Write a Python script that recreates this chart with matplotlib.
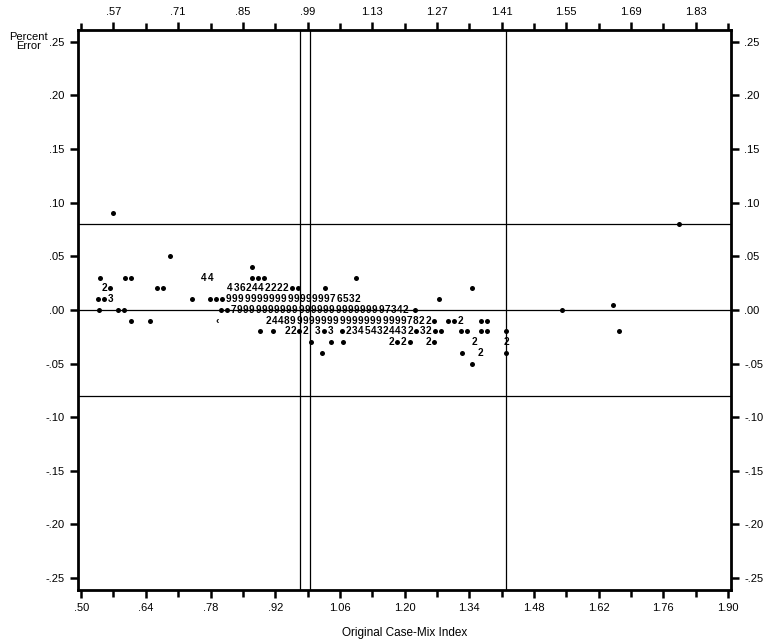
import numpy as np
import matplotlib
matplotlib.use("Agg")
from matplotlib import pyplot as plt

plt.rcParams['font.family'] = ['Liberation Sans', 'DejaVu Sans']

# printer-plot cells: 'o' = one case, digit = number of cases, ' ' = empty cell
seg_y = [0.09, 0.08, 0.05, 0.04,
         0.03, 0.03, 0.03, 0.03, 0.03,
         0.02, 0.02, 0.02, 0.02, 0.02,
         0.01, 0.01, 0.01, 0.01,
         0.00, 0.00, 0.00, 0.00, 0.00, 0.005,
         -0.01, -0.01, -0.01, -0.01, -0.01, -0.01,
         -0.02, -0.02, -0.02, -0.02, -0.02, -0.02, -0.02,
         -0.03, -0.03, -0.03, -0.03, -0.03, -0.03, -0.03,
         -0.04, -0.04, -0.04, -0.04,
         -0.05]
seg_x = [0.569, 1.794, 0.693, 0.870,
         0.541, 0.595, 0.766, 0.870, 1.095,
         0.550, 0.664, 0.8225, 1.028, 1.346,
         0.537, 0.740, 0.779, 1.275,
         0.539, 0.580, 0.803, 1.223, 1.541, 1.652,
         0.608, 0.649, 0.794, 0.905, 1.294, 1.366,
         0.887, 0.916, 0.946, 1.322, 1.366, 1.420, 1.665,
         0.998, 1.041, 1.067, 1.171, 1.251, 1.351, 1.420,
         1.022, 1.325, 1.364, 1.420,
         1.346]
seg_sym = ["o", "o", "o", "o",
           "o", "oo", "44", "ooo", "o",
           "2o", "oo", "4362442222oo", "o", "o",
           "oo3", "o", "ooo" + "9" * 17 + "76532", "o",
           "o", "oo", "oo7" + "9" * 24 + "7342", "o", "o", "o",
           "o", "o", "\u2039", "2448" + "9" * 19 + "7822o", "oo2", "oo",
           "o", "o", "22o2 3o3 o23454324432o32oo", "oo", "oo", "o", "o",
           "o", "o", "o", "2o2o", "2o", "2", "2",
           "o", "o", "2", "o",
           "o"]
cell = 0.0133

ref_h = [0.08, 0.0, -0.08]
ref_v = [0.973, 0.995, 1.42]

x_major = np.round(np.arange(0.50, 1.901, 0.14), 2)
x_minor = np.round(np.arange(0.57, 1.90, 0.14), 2)
y_ticks = np.round(np.arange(-0.25, 0.251, 0.05), 2)


def fmt(v):
    s = "%.2f" % v
    if s == "-0.00":
        s = "0.00"
    if s.startswith("0"):
        s = s[1:]
    elif s.startswith("-0"):
        s = "-" + s[2:]
    return s


fig = plt.figure(figsize=(7.64, 6.39), dpi=100)
ax = fig.add_axes([0.102, 0.077, 0.855, 0.876])
ax.set_xlim(0.493, 1.907)
ax.set_ylim(-0.261, 0.261)

for v in ref_h:
    ax.axhline(v, color="black", lw=0.9)
for v in ref_v:
    ax.axvline(v, color="black", lw=0.9)

dots_x, dots_y = [], []
for y, x0, s in zip(seg_y, seg_x, seg_sym):
    for i, c in enumerate(s):
        x = x0 + i * cell
        if c == "o":
            dots_x.append(x)
            dots_y.append(y)
        elif c != " ":
            ax.text(x, y, c, ha="center", va="center", fontsize=7.2,
                    fontweight="bold")
ax.plot(dots_x, dots_y, "o", color="black", ms=3.6, mew=0)

for sp in ax.spines.values():
    sp.set_linewidth(2.0)

ax.set_xticks(x_major)
ax.set_xticklabels([fmt(v) for v in x_major])
ax.set_xticks(x_minor, minor=True)
ax.set_yticks(y_ticks)
ax.set_yticklabels([fmt(v) for v in y_ticks])
ax.tick_params(which="both", direction="out", width=1.8, labelsize=8)
ax.tick_params(which="major", length=6)
ax.tick_params(which="minor", length=5)

top = ax.secondary_xaxis("top")
top.set_xticks(x_minor)
top.set_xticklabels([fmt(v) for v in x_minor])
top.set_xticks(x_major, minor=True)
top.tick_params(which="both", direction="out", width=1.8, labelsize=8)
top.tick_params(which="major", length=6)
top.tick_params(which="minor", length=5)

right = ax.secondary_yaxis("right")
right.set_yticks(y_ticks)
right.set_yticklabels([fmt(v) for v in y_ticks])
right.tick_params(direction="out", width=1.8, length=6, labelsize=8)

ax.set_xlabel("Original Case-Mix Index", fontsize=8.5, labelpad=10)
fig.text(0.037, 0.935, "Percent\nError", ha="center", va="center",
         fontsize=8, linespacing=0.95)

fig.savefig("out.png", dpi=100)
